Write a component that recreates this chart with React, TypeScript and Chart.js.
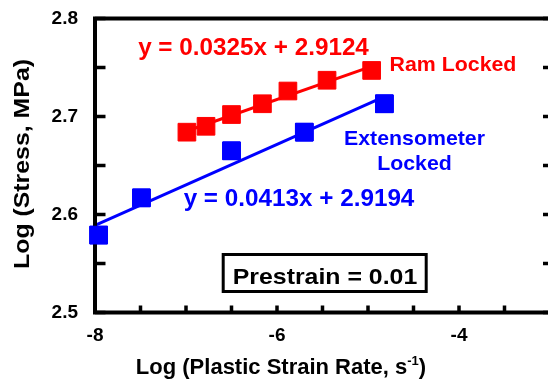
import React, { useEffect, useRef } from 'react';
import { Chart, registerables } from 'chart.js';

Chart.register(...registerables);

// ---- data ----
const ramX = [-6.99, -6.78, -6.5, -6.16, -5.88, -5.45, -4.96];
const ramY = [2.684, 2.69, 2.702, 2.713, 2.726, 2.737, 2.747];
const extX = [-7.96, -7.49, -6.5, -5.7, -4.82];
const extY = [2.579, 2.617, 2.665, 2.684, 2.713];
const ramSlope = 0.0325;
const ramIntercept = 2.9124;
const extSlope = 0.0413;
const extIntercept = 2.9194;
const ramFitRange = [-6.99, -4.96];
const extFitRange = [-8, -4.82];
const xLabeled = [-8, -6, -4];
const yLabeled = [2.5, 2.6, 2.7, 2.8];

const ramEq = 'y = 0.0325x + 2.9124';
const extEq = 'y = 0.0413x + 2.9194';
const ramLabel = 'Ram Locked';
const extLabel1 = 'Extensometer';
const extLabel2 = 'Locked';
const boxLabel = 'Prestrain = 0.01';
const yTitle = 'Log (Stress, MPa)';
const xTitleMain = 'Log (Plastic Strain Rate, s';
const xTitleSup = '-1';
const xTitleEnd = ')';

const RED = '#FF0000';
const BLUE = '#0000FF';
const FONT = '"Liberation Sans", Arial, Helvetica, sans-serif';

function fitLine(range: number[], slope: number, intercept: number) {
  return range.map((x) => ({ x, y: slope * x + intercept }));
}

function txt(
  ctx: CanvasRenderingContext2D,
  text: string,
  cx: number,
  base: number,
  size: number,
  sx: number,
  color: string
) {
  ctx.save();
  ctx.font = `bold ${size}px ${FONT}`;
  ctx.fillStyle = color;
  ctx.textAlign = 'center';
  ctx.textBaseline = 'alphabetic';
  ctx.translate(cx, base);
  ctx.scale(sx, 1);
  ctx.fillText(text, 0, 0);
  ctx.restore();
}

function drawFrame(chart: any) {
  const ctx: CanvasRenderingContext2D = chart.ctx;
  const { left, right, top, bottom } = chart.chartArea;
  const xs = chart.scales.x;
  const ys = chart.scales.y;
  ctx.save();
  ctx.setLineDash([]);
  ctx.globalAlpha = 1;
  ctx.strokeStyle = '#000000';
  ctx.lineWidth = 3.5;
  ctx.lineCap = 'butt';
  ctx.beginPath();
  for (const t of xs.ticks) {
    const px = xs.getPixelForValue(t.value);
    ctx.moveTo(px, bottom);
    ctx.lineTo(px, bottom - 7);
  }
  for (const t of ys.ticks) {
    const py = ys.getPixelForValue(t.value);
    ctx.moveTo(left, py);
    ctx.lineTo(left + 10.5, py);
    ctx.moveTo(right, py);
    ctx.lineTo(right - 7, py);
  }
  ctx.stroke();
  ctx.lineWidth = 4;
  ctx.lineJoin = 'miter';
  ctx.beginPath();
  ctx.rect(left, top, right - left, bottom - top);
  ctx.stroke();
  ctx.restore();
}

const annotations = {
  id: 'annotations',
  afterDraw(chart: any) {
    const ctx: CanvasRenderingContext2D = chart.ctx;
    drawFrame(chart);
    // markers sit on top of the axis frame, as in the original
    ctx.save();
    chart.getDatasetMeta(3).controller.draw();
    ctx.restore();

    txt(ctx, ramEq, 253.5, 55, 23, 1.055, RED);
    txt(ctx, ramLabel, 453, 71, 20.5, 1.04, RED);
    txt(ctx, extLabel1, 414.5, 145, 20.5, 1.04, BLUE);
    txt(ctx, extLabel2, 414.5, 169.5, 20.5, 1.04, BLUE);
    txt(ctx, extEq, 299, 206, 23, 1.055, BLUE);

    // prestrain box
    ctx.save();
    ctx.strokeStyle = '#000';
    ctx.lineWidth = 3;
    ctx.strokeRect(223.2, 254.5, 203, 37);
    ctx.restore();
    txt(ctx, boxLabel, 325, 284.3, 22, 1.13, '#000');

    // y title
    ctx.save();
    ctx.font = `bold 22px ${FONT}`;
    ctx.fillStyle = '#000';
    ctx.textAlign = 'center';
    ctx.textBaseline = 'alphabetic';
    ctx.translate(28.7, 164);
    ctx.rotate(-Math.PI / 2);
    ctx.scale(1.13, 1);
    ctx.fillText(yTitle, 0, 0);
    ctx.restore();

    // x title with superscript
    ctx.save();
    ctx.fillStyle = '#000';
    ctx.textBaseline = 'alphabetic';
    ctx.textAlign = 'left';
    const mainFont = `bold 22px ${FONT}`;
    const supFont = `bold 13px ${FONT}`;
    ctx.font = mainFont;
    const w1 = ctx.measureText(xTitleMain).width;
    const w3 = ctx.measureText(xTitleEnd).width;
    ctx.font = supFont;
    const w2 = ctx.measureText(xTitleSup).width;
    const total = w1 + w2 + w3;
    let x0 = 281 - total / 2;
    const base = 374;
    ctx.font = mainFont;
    ctx.fillText(xTitleMain, x0, base);
    x0 += w1;
    ctx.font = supFont;
    ctx.fillText(xTitleSup, x0, base - 9);
    x0 += w2;
    ctx.font = mainFont;
    ctx.fillText(xTitleEnd, x0, base);
    ctx.restore();
  },
};

export default function App() {
  const ref = useRef<HTMLCanvasElement | null>(null);

  useEffect(() => {
    if (!ref.current) return;
    const tickFont = { family: FONT, size: 19, weight: 'bold' as const };
    const chart = new Chart(ref.current, {
      type: 'scatter',
      data: {
        datasets: [
          {
            label: 'Ram fit',
            data: fitLine(ramFitRange, ramSlope, ramIntercept),
            showLine: true,
            borderColor: RED,
            borderWidth: 3,
            pointRadius: 0,
            clip: false as any,
          },
          {
            label: 'Extensometer fit',
            data: fitLine(extFitRange, extSlope, extIntercept),
            showLine: true,
            borderColor: BLUE,
            borderWidth: 3,
            pointRadius: 0,
            clip: false as any,
          },
          {
            label: ramLabel,
            data: ramX.map((x, i) => ({ x, y: ramY[i] })),
            pointStyle: 'rect',
            pointRadius: 12.5,
            backgroundColor: RED,
            borderColor: RED,
            borderWidth: 1,
            clip: false as any,
          },
          {
            label: 'Extensometer Locked',
            data: extX.map((x, i) => ({ x, y: extY[i] })),
            pointStyle: 'rect',
            pointRadius: 12.5,
            backgroundColor: BLUE,
            borderColor: BLUE,
            borderWidth: 1,
            clip: false as any,
          },
        ],
      },
      options: {
        animation: false,
        responsive: false,
        maintainAspectRatio: false,
        layout: { autoPadding: false, padding: { top: 18.5, right: 2, left: 0, bottom: 0 } },
        plugins: {
          legend: { display: false },
          tooltip: { enabled: false },
          title: { display: false },
        },
        scales: {
          x: {
            type: 'linear',
            position: 'bottom',
            min: -8,
            max: -3,
            afterFit: (s: any) => {
              s.height = 68.5;
            },
            ticks: {
              stepSize: 0.5,
              autoSkip: false,
              maxRotation: 0,
              padding: 0,
              color: '#000',
              font: tickFont,
              callback: (v: any) => {
                const r = Math.round(Number(v) * 10) / 10;
                return xLabeled.includes(r) ? String(r) : '';
              },
            },
            grid: { drawOnChartArea: false, drawTicks: true, tickLength: 12, color: 'rgba(0,0,0,0)' },
            border: { display: false },
          },
          y: {
            type: 'linear',
            position: 'left',
            min: 2.5,
            max: 2.8,
            afterFit: (s: any) => {
              s.width = 95;
            },
            ticks: {
              stepSize: 0.05,
              autoSkip: false,
              padding: 0,
              color: '#000',
              font: tickFont,
              callback: (v: any) => {
                const r = Math.round(Number(v) * 100) / 100;
                return yLabeled.some((l) => Math.abs(l - r) < 1e-6) ? r.toFixed(1) : '';
              },
            },
            grid: { drawOnChartArea: false, drawTicks: true, tickLength: 17, color: 'rgba(0,0,0,0)' },
            border: { display: false },
          },
        },
      } as any,
      plugins: [annotations],
    });
    return () => chart.destroy();
  }, []);

  return (
    <div
      style={{
        position: 'absolute',
        left: 0,
        top: 0,
        width: 548,
        height: 381,
        overflow: 'hidden',
        background: '#fff',
      }}
    >
      <canvas ref={ref} width={552} height={381} style={{ display: 'block', width: 552, height: 381 }} />
    </div>
  );
}
